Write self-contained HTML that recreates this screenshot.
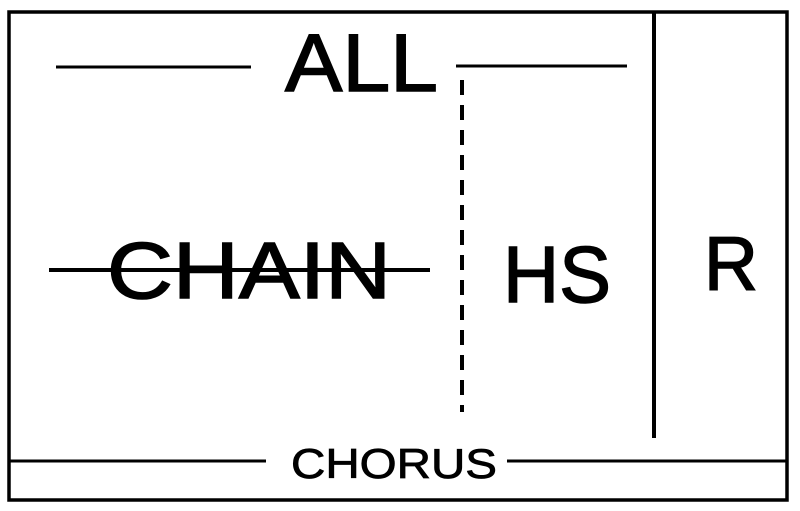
<!DOCTYPE html>
<html><head><style>html,body{margin:0;padding:0;background:#fff;width:800px;height:511px;overflow:hidden}</style></head>
<body>
<svg width="800" height="511" viewBox="0 0 800 511" xmlns="http://www.w3.org/2000/svg">
<rect x="9" y="12" width="778" height="488" fill="none" stroke="#000" stroke-width="3.5"/>
<line x1="654" y1="12" x2="654" y2="438" stroke="#000" stroke-width="4"/>
<line x1="56" y1="67" x2="251" y2="67" stroke="#000" stroke-width="3"/>
<line x1="456" y1="66" x2="627" y2="66" stroke="#000" stroke-width="3"/>
<line x1="462" y1="80" x2="462" y2="412" stroke="#000" stroke-width="4" stroke-dasharray="15,10"/>
<line x1="9" y1="461" x2="266" y2="461" stroke="#000" stroke-width="3"/>
<line x1="507" y1="461" x2="787" y2="461" stroke="#000" stroke-width="3"/>
<g font-family="Liberation Sans, sans-serif" fill="#000" stroke="#000" stroke-width="1.5">
<text x="285" y="91" font-size="82" textLength="153" lengthAdjust="spacingAndGlyphs">ALL</text>
<text x="107" y="298" font-size="80" textLength="284" lengthAdjust="spacingAndGlyphs">CHAIN</text>
<text x="503" y="302" font-size="80" textLength="108" lengthAdjust="spacingAndGlyphs">HS</text>
<text x="704" y="290" font-size="76" textLength="54" lengthAdjust="spacingAndGlyphs">R</text>
<text x="291" y="478" font-size="42" textLength="206" lengthAdjust="spacingAndGlyphs" stroke-width="0.8">CHORUS</text>
</g>
<line x1="49" y1="270" x2="430" y2="270" stroke="#000" stroke-width="4"/>
</svg>
</body></html>
